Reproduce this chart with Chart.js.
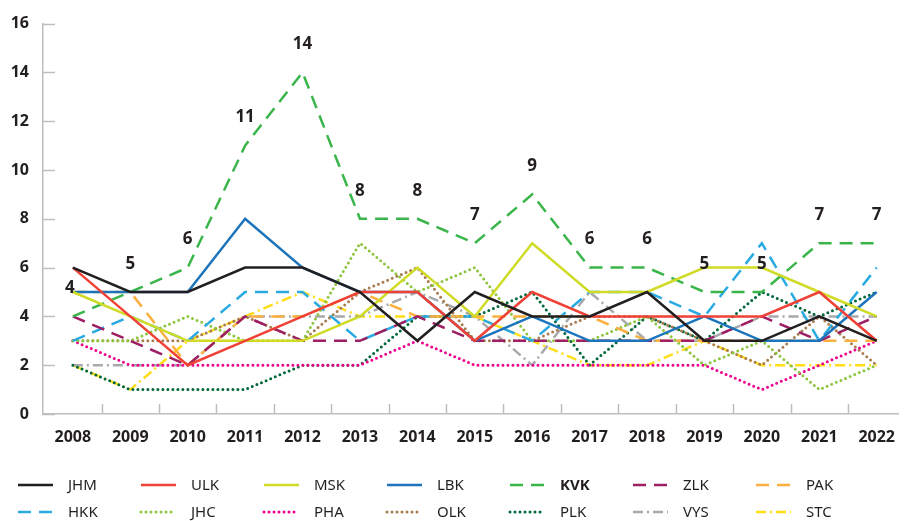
<!DOCTYPE html>
<html>
<head>
<meta charset="utf-8">
<script src="https://cdn.jsdelivr.net/npm/chart.js@4.4.1/dist/chart.umd.min.js"></script>
<style>
  html, body { margin: 0; padding: 0; background: #fff; }
</style>
</head>
<body>
<canvas id="chart" width="909" height="521"></canvas>
<script>
// data
const years = [2008, 2009, 2010, 2011, 2012, 2013, 2014, 2015, 2016, 2017, 2018, 2019, 2020, 2021, 2022];
const yTicks = [0, 2, 4, 6, 8, 10, 12, 14, 16];

const JHM = [6, 5, 5, 6, 6, 5, 3, 5, 4, 4, 5, 3, 3, 4, 3];
const ULK = [6, 4, 2, 3, 4, 5, 5, 3, 5, 4, 4, 4, 4, 5, 3];
const MSK = [5, 4, 3, 3, 3, 4, 6, 4, 7, 5, 5, 6, 6, 5, 4];
const LBK = [5, 5, 5, 8, 6, 5, 5, 3, 4, 3, 3, 4, 3, 3, 5];
const KVK = [4, 5, 6, 11, 14, 8, 8, 7, 9, 6, 6, 5, 5, 7, 7];
const ZLK = [4, 3, 2, 4, 3, 3, 4, 3, 3, 3, 3, 3, 4, 3, 4];
const PAK = [5, 5, 2, 4, 4, 5, 4, 4, 4, 4, 3, 3, 3, 3, 3];
const HKK = [3, 4, 3, 5, 5, 3, 4, 4, 3, 5, 5, 4, 7, 3, 6];
const JHC = [3, 3, 4, 3, 3, 7, 5, 6, 3, 3, 4, 2, 3, 1, 2];
const PHA = [3, 2, 2, 2, 2, 2, 3, 2, 2, 2, 2, 2, 1, 2, 3];
const OLK = [3, 3, 3, 4, 3, 5, 6, 3, 3, 4, 4, 3, 2, 4, 2];
const PLK = [2, 1, 1, 1, 2, 2, 4, 4, 5, 2, 4, 3, 5, 4, 5];
const VYS = [2, 2, 2, 4, 4, 4, 5, 4, 2, 5, 3, 3, 4, 4, 4];
const STC = [2, 1, 3, 4, 5, 4, 4, 4, 3, 2, 2, 3, 2, 2, 2];

const FONT = "'Noto Sans', 'DejaVu Sans', sans-serif";
const INK = "#231f20";
const AXIS = "#bcbec0";

const SOLID = [];
const DASH = [13, 8];
const DOT = [0, 5];
const DASHDOT = [10, 4, 2, 4];

function series(label, values, color, dash) {
    return {
        label: label,
        data: values.map(function (v, i) { return { x: years[i], y: v }; }),
        borderColor: color,
        backgroundColor: color,
        borderWidth: dash === DOT ? 3 : 2.5,
        borderDash: dash,
        borderCapStyle: dash === DOT ? "round" : "butt",
        pointRadius: 0,
        tension: 0,
        fill: false
    };
}

const datasets = [
    series("JHM", JHM, "#231f20", SOLID),
    series("ULK", ULK, "#ef4136", SOLID),
    series("MSK", MSK, "#cfdb25", SOLID),
    series("LBK", LBK, "#1c75bc", SOLID),
    series("KVK", KVK, "#39b54a", DASH),
    series("ZLK", ZLK, "#9e1f63", DASH),
    series("PAK", PAK, "#fbb040", DASH),
    series("HKK", HKK, "#29aae1", DASH),
    series("JHC", JHC, "#8dc63f", DOT),
    series("PHA", PHA, "#ec008c", DOT),
    series("OLK", OLK, "#a97c50", DOT),
    series("PLK", PLK, "#006838", DOT),
    series("VYS", VYS, "#a7a9ac", DASHDOT),
    series("STC", STC, "#ffde17", DASHDOT)
];

// small inward tick marks like the original
const tickMarks = {
    id: "tickMarks",
    afterDraw: function (chart) {
        const ctx = chart.ctx;
        const xs = chart.scales.x, ys = chart.scales.y;
        ctx.save();
        ctx.strokeStyle = AXIS;
        ctx.lineWidth = 1.5;
        ctx.beginPath();
        yTicks.forEach(function (t) {
            const y = Math.round(ys.getPixelForValue(t)) + 0.5;
            ctx.moveTo(xs.left, y);
            ctx.lineTo(xs.left + 12, y);
        });
        for (let i = 1; i < years.length; i++) {
            const x = Math.round(xs.getPixelForValue(years[i] - 0.5)) + 0.5;
            ctx.moveTo(x, ys.bottom);
            ctx.lineTo(x, ys.bottom - 10);
        }
        ctx.stroke();
        ctx.restore();
    }
};

// numbers above the KVK line
const kvkLabels = {
    id: "kvkLabels",
    afterDatasetsDraw: function (chart) {
        const ctx = chart.ctx;
        const meta = chart.getDatasetMeta(4);
        ctx.save();
        ctx.font = "bold 17px " + FONT;
        ctx.fillStyle = INK;
        ctx.textAlign = "center";
        ctx.textBaseline = "middle";
        meta.data.forEach(function (pt, i) {
            ctx.fillText(String(KVK[i]), pt.x - (i === 0 ? 3 : 0), pt.y - 28);
        });
        ctx.restore();
    }
};

// legend laid out in a 7 x 2 grid
const gridLegend = {
    id: "gridLegend",
    afterDraw: function (chart) {
        const ctx = chart.ctx;
        ctx.save();
        chart.data.datasets.forEach(function (ds, i) {
            const col = i % 7, row = Math.floor(i / 7);
            const x = 18 + col * 123;
            const y = row === 0 ? 485 : 512;
            ctx.strokeStyle = ds.borderColor;
            ctx.lineWidth = ds.borderWidth;
            ctx.setLineDash(ds.borderDash);
            ctx.lineCap = ds.borderCapStyle;
            ctx.beginPath();
            ctx.moveTo(x, y);
            ctx.lineTo(x + 35, y);
            ctx.stroke();
            ctx.font = (ds.label === "KVK" ? "bold " : "") + "15px " + FONT;
            ctx.fillStyle = INK;
            ctx.textAlign = "left";
            ctx.textBaseline = "middle";
            ctx.fillText(ds.label, x + 50, y + 1);
        });
        ctx.restore();
    }
};

const ctx = document.getElementById("chart").getContext("2d");
new Chart(ctx, {
    type: "line",
    data: { datasets: datasets },
    options: {
        responsive: false,
        animation: false,
        layout: { padding: { top: 18, right: 0, bottom: 70, left: 0 } },
        plugins: {
            legend: { display: false },
            tooltip: { enabled: false }
        },
        scales: {
            x: {
                type: "linear",
                min: 2007.48,
                max: 2022.38,
                afterBuildTicks: function (scale) {
                    scale.ticks = years.map(function (v) { return { value: v }; });
                },
                afterFit: function (scale) { scale.height = 37; },
                grid: { display: false, drawTicks: false },
                border: { display: true, color: AXIS, width: 1.5 },
                ticks: {
                    padding: 14,
                    maxRotation: 0,
                    autoSkip: false,
                    color: INK,
                    font: { family: FONT, size: 16, weight: "bold" },
                    callback: function (v) { return String(v); }
                }
            },
            y: {
                min: 0,
                max: 16,
                afterFit: function (scale) { scale.width = 43; },
                grid: { display: false, drawTicks: false },
                border: { display: true, color: AXIS, width: 1.5 },
                ticks: {
                    stepSize: 2,
                    padding: 14,
                    color: INK,
                    font: { family: FONT, size: 16, weight: "bold" }
                }
            }
        }
    },
    plugins: [tickMarks, kvkLabels, gridLegend]
});
</script>
</body>
</html>
